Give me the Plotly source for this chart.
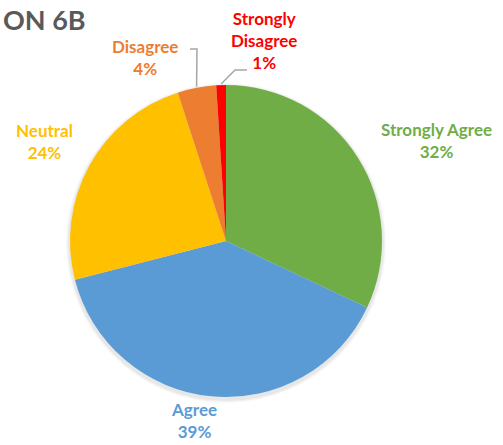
import math
import plotly.graph_objects as go

# ---- data ----
categories = ["Strongly Agree", "Agree", "Neutral", "Disagree", "Strongly Disagree"]
values = [32, 39, 24, 4, 1]
pct_labels = ["32%", "39%", "24%", "4%", "1%"]
colors = ["#70AD47", "#5B9BD5", "#FFC000", "#ED7D31", "#FF0000"]
title_text = "ON 6B"

# ---- layout constants (pixels) ----
W, H = 503, 445
CX, CY, R = 226, 241, 156  # pie centre / radius in px (y from top)
FONT = "Lato"


def dom(cx, cy, r):
    return dict(x=[(cx - r) / W, (cx + r) / W],
                y=[(H - cy - r) / H, (H - cy + r) / H])


fig = go.Figure()

# soft shadow layers
for k, a in [(4, 0.025), (3, 0.03), (2, 0.04)]:
    fig.add_trace(go.Pie(values=[1], marker=dict(colors=[f"rgba(0,0,0,{a})"]),
                         domain=dom(CX, CY + 2, R + k), textinfo="none",
                         hoverinfo="skip", showlegend=False, sort=False))

fig.add_trace(go.Pie(
    labels=categories, values=values, sort=False, direction="clockwise",
    rotation=0, marker=dict(colors=colors, line=dict(width=0)),
    textinfo="none", showlegend=False, domain=dom(CX, CY, R),
))

# label positions (px, centre of text block)
label_pos = {
    "Strongly Agree": (436, 140, "Strongly Agree"),
    "Agree": (194, 420, "Agree"),
    "Neutral": (44, 141, "Neutral"),
    "Disagree": (145, 57, "Disagree"),
    "Strongly Disagree": (264, 40, "Strongly<br>Disagree"),
}
annotations = []
for cat, pct, col in zip(categories, pct_labels, colors):
    x, y, txt = label_pos[cat]
    annotations.append(dict(
        x=x / W, y=1 - y / H, xref="paper", yref="paper", showarrow=False,
        text=f"<b>{txt}<br>{pct}</b>", font=dict(family=FONT, size=17, color=col),
        xanchor="center", yanchor="middle", align="center"))

annotations.append(dict(
    x=1 / W, y=1 - 19 / H, xref="paper", yref="paper", showarrow=False,
    text=f"<b>{title_text}</b>", font=dict(family=FONT, size=27, color="#595959"),
    xanchor="left", yanchor="middle"))

# leader lines to the small slices, ending at slice mid-angle on the rim
total = sum(values)
cum = 0
mids = {}
for cat, v in zip(categories, values):
    mids[cat] = (cum + v / 2) / total * 2 * math.pi
    cum += v

leader_starts = {
    "Disagree": [(190, 49), (197, 49)],
    "Strongly Disagree": [(247, 70), (235, 70)],
}
shapes = []
for cat, pts in leader_starts.items():
    ang = mids[cat]
    ex = CX + (R + 1) * math.sin(ang)
    ey = CY - (R + 1) * math.cos(ang)
    allp = pts + [(ex, ey)]
    path = "M " + " L ".join(f"{px / W},{1 - py / H}" for px, py in allp)
    shapes.append(dict(type="path", path=path, xref="paper", yref="paper",
                       line=dict(color="#A6A6A6", width=1.5)))

fig.update_layout(
    width=W, height=H, margin=dict(l=0, r=0, t=0, b=0),
    paper_bgcolor="white", plot_bgcolor="white",
    annotations=annotations, shapes=shapes,
)

fig.write_html(
    "out.html",
    config={"displayModeBar": False},
    post_script="document.body.style.margin='0';document.body.style.overflow='hidden';",
)
